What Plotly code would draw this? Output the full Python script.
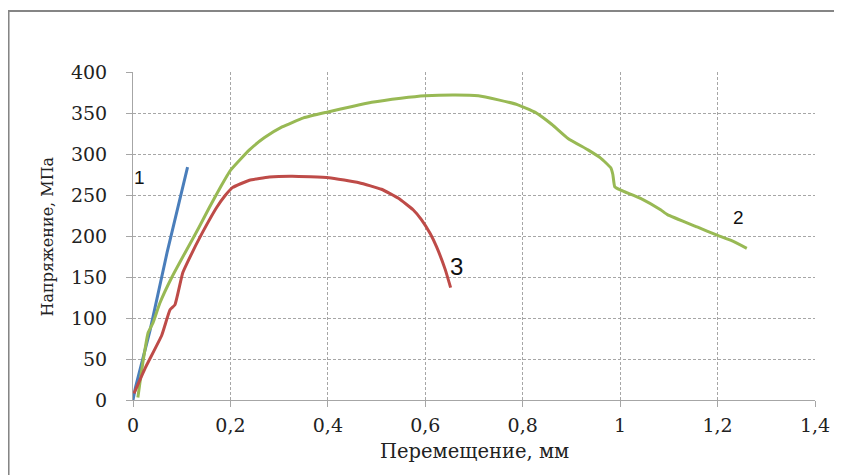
import plotly.graph_objects as go

# Curve 1 (blue)
x1 = [0.0, 0.005, 0.035, 0.07, 0.112]
y1 = [0, 15, 85, 180, 284]

# Curve 2 (green)
x2 = [0.01, 0.018, 0.031, 0.041, 0.055, 0.08, 0.11, 0.135, 0.157, 0.18, 0.2, 0.239, 0.27, 0.306, 0.35, 0.398,
      0.45, 0.49, 0.55, 0.60, 0.662, 0.709, 0.75, 0.79, 0.825, 0.86, 0.893, 0.934, 0.96, 0.981, 0.985, 0.989,
      1.001, 1.042, 1.083, 1.097, 1.158, 1.199, 1.23, 1.26]
y2 = [3, 37, 82, 94, 118, 150, 183, 210, 235, 260, 280, 305, 320, 333, 344, 351,
      358, 363, 368, 371, 372, 371, 366, 360, 351, 336, 319, 305, 295, 283, 275, 260,
      256, 246, 232, 226, 211, 201, 194, 185]

# Curve 3 (red)
x3 = [0.002, 0.025, 0.059, 0.076, 0.086, 0.102, 0.12, 0.137, 0.172, 0.19, 0.204, 0.239, 0.28, 0.327,
      0.402, 0.464, 0.51, 0.545, 0.575, 0.592, 0.61, 0.623, 0.641, 0.652]
y3 = [8, 39, 79, 110, 116, 155, 178, 198, 235, 250, 259, 268, 272, 273,
      271, 265, 257, 246, 232, 220, 203, 187, 159, 137]

x_ticks = [0, 0.2, 0.4, 0.6, 0.8, 1.0, 1.2, 1.4]
x_tick_text = ["0", "0,2", "0,4", "0,6", "0,8", "1", "1,2", "1,4"]
y_ticks = [0, 50, 100, 150, 200, 250, 300, 350, 400]

labels_text = ["1", "2", "3"]
labels_x = [0.014, 1.242, 0.664]
labels_y = [271, 222, 163]

fig = go.Figure()
fig.add_trace(go.Scatter(x=x1, y=y1, mode="lines", line=dict(color="#4a7ebb", width=3), showlegend=False))
fig.add_trace(go.Scatter(x=x2, y=y2, mode="lines", line=dict(color="#98b954", width=3, shape="spline", smoothing=0.4), showlegend=False))
fig.add_trace(go.Scatter(x=x3, y=y3, mode="lines", line=dict(color="#be4b48", width=3, shape="spline", smoothing=0.4), showlegend=False))

serif = "DejaVu Serif, Liberation Serif, serif"
axis_common = dict(
    showgrid=True, gridcolor="#a6a6a6", griddash="3px,2px", gridwidth=1,
    showline=True, linecolor="#a6a6a6", linewidth=1,
    ticks="outside", ticklen=6, tickcolor="#a6a6a6",
    tickfont=dict(family=serif, size=19, color="#222222"),
    zeroline=False,
)
fig.update_xaxes(range=[0, 1.4], tickvals=x_ticks, ticktext=x_tick_text, ticklabelstandoff=2, **axis_common)
fig.update_yaxes(range=[0, 400], tickvals=y_ticks, ticklabelstandoff=15, **axis_common)

for t, xv, yv in zip(labels_text, labels_x, labels_y):
    fig.add_annotation(x=xv, y=yv, text=t, showarrow=False,
                       font=dict(family="Liberation Sans, Arial, sans-serif",
                                 size=24 if t == "3" else 19, color="#111111"))

fig.add_annotation(xref="paper", yref="paper", x=(476 - 133) / 685, y=(400 - 451) / 328,
                   xanchor="center", yanchor="middle",
                   text="Перемещение, мм", showarrow=False,
                   font=dict(family=serif, size=19.5, color="#222222"))
fig.add_annotation(xref="paper", yref="paper", x=(47 - 133) / 685, y=(400 - 236) / 328,
                   xanchor="center", yanchor="middle",
                   text="Напряжение, МПа", showarrow=False, textangle=-90,
                   font=dict(family=serif, size=16, color="#222222"))

# outer chart frame
fig.add_shape(type="rect", xref="paper", yref="paper",
              x0=(8 - 133) / 685, x1=(860 - 133) / 685,
              y0=(400 - 500) / 328, y1=(400 - 11) / 328,
              line=dict(color="#858585", width=2))

# page body has an 8px default margin; the figure is sized/offset so the plot
# area lands at x 133..818, y 72..400 in the window
fig.update_layout(
    width=834, height=467,
    margin=dict(l=125, r=24, t=64, b=75),
    paper_bgcolor="white", plot_bgcolor="white",
)
fig.write_html("out.html")
